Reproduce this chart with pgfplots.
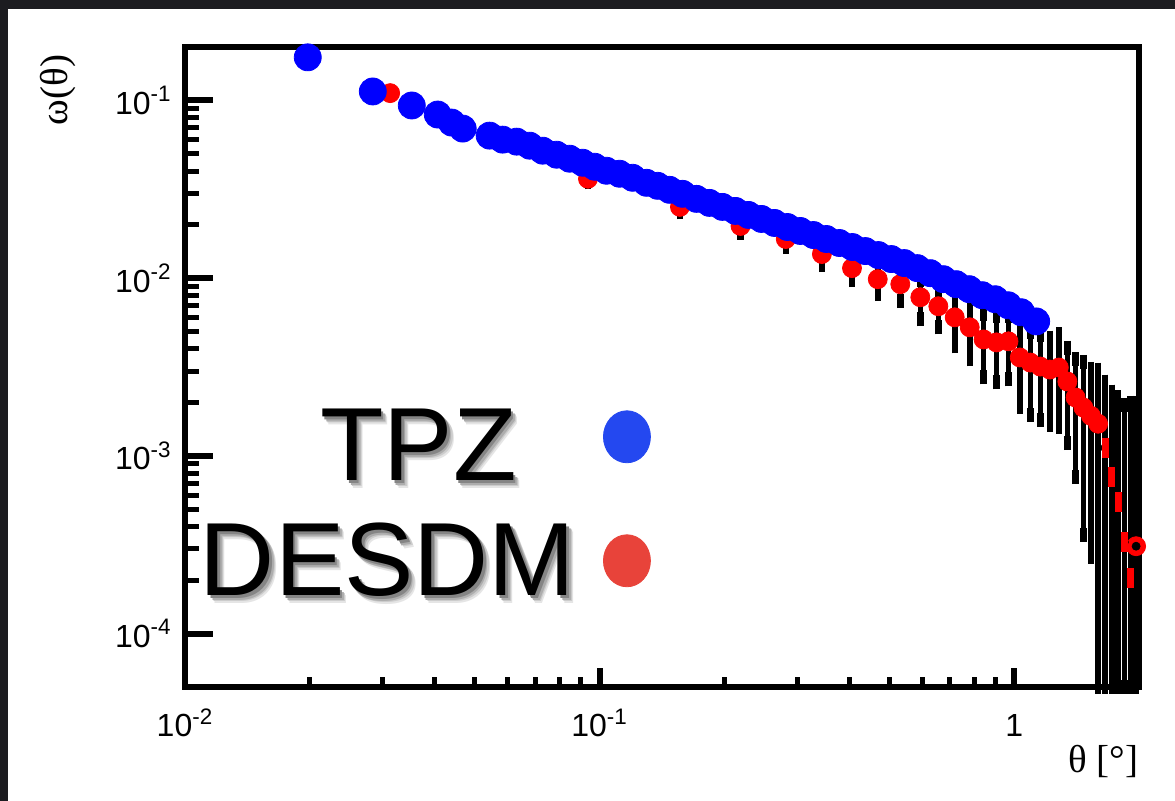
\documentclass[border=0pt]{standalone}
\usepackage{fontspec}
\setmainfont{Liberation Sans}
\newfontfamily\timesfont{Liberation Serif}
\usepackage{pgfplots}
\pgfplotsset{compat=1.18}
\usepackage{pgfplotstable}
\definecolor{bgdark}{RGB}{28,28,32}
\definecolor{legblue}{RGB}{36,72,240}
\definecolor{legred}{RGB}{232,67,58}
\newcommand{\shtext}[1]{\rlap{\kern3.4pt\raisebox{-4pt}{\color{black!10}#1}}\rlap{\kern2.8pt\raisebox{-3.3pt}{\color{black!20}#1}}\rlap{\kern2.1pt\raisebox{-2.5pt}{\color{black!32}#1}}\rlap{\kern1.3pt\raisebox{-1.6pt}{\color{black!48}#1}}#1}

\pgfplotstableread{
t w ep em
0.03125 0.110 0.0017 0.0017
0.09375 0.03625 0.0017 0.0017
0.15625 0.02518 0.0017 0.0017
0.21875 0.01967 0.0017 0.0017
0.28125 0.01661 0.00164 0.00164
0.34375 0.01367 0.00183 0.00183
0.40625 0.01139 0.00165 0.00165
0.46875 0.00987 0.00175 0.00175
0.53125 0.00925 0.00183 0.00183
0.59375 0.00781 0.00194 0.00194
0.65625 0.00695 0.00166 0.00166
0.71875 0.00602 0.00189 0.00189
0.78125 0.00529 0.00180 0.00180
0.84375 0.00452 0.00176 0.00176
0.90625 0.00435 0.00176 0.00176
0.96875 0.00441 0.00172 0.00172
1.03125 0.00358 0.00169 0.00169
1.09375 0.00335 0.00165 0.00165
1.15625 0.00318 0.00158 0.00158
1.21875 0.00306 0.00156 0.00156
1.28125 0.00314 0.00168 0.00168
1.34375 0.00262 0.00144 0.00144
1.40625 0.00213 0.00137 0.00137
1.46875 0.00187 0.00151 0.00151
1.53125 0.00168 0.00141 0.00141
1.59375 0.001516 0.00154 0.001466
1.65625 0.00111 0.00151 0.00106
1.71875 0.000761 0.00154 0.000711
1.78125 0.00055 0.00158 0.0005
1.84375 0.000327 0.00161 0.000277
1.90625 0.000204 0.00178 0.000154
1.96875 0.00031 0.00167 0.00026
}\reddata

\pgfplotstableread{
t w
0.01978 0.1749
0.02838 0.1124
0.03524 0.09371
0.04071 0.08335
0.04399 0.07509
0.04676 0.06947
0.05430 0.06342
0.05837 0.06021
0.06310 0.05866
0.06782 0.05568
0.07290 0.05218
0.07877 0.04953
0.08468 0.04702
0.09100 0.04464
0.09727 0.04238
0.1039 0.04023
0.1117 0.03870
0.1201 0.03673
0.1298 0.03441
0.1380 0.03310
0.1475 0.03142
0.1585 0.02983
0.1713 0.02794
0.1841 0.02652
0.1978 0.02518
0.2127 0.02390
0.2286 0.02269
0.2457 0.02154
0.2641 0.02045
0.2838 0.01941
0.3050 0.01843
0.3279 0.01749
0.3524 0.01661
0.3788 0.01577
0.4071 0.01497
0.4375 0.01421
0.4703 0.01349
0.5054 0.01281
0.5432 0.01216
0.5839 0.01139
0.6275 0.01067
0.6745 0.00987
0.7249 0.00925
0.7791 0.00867
0.8374 0.00802
0.9000 0.00761
0.9672 0.00704
1.0396 0.00643
1.1298 0.00571
}\bluedata

\begin{document}
\begin{tikzpicture}
\fill[bgdark] (0,0) rectangle (587.5pt,400.5pt);
\fill[white] (4pt,0) rectangle (587.5pt,396pt);
\begin{axis}[
  at={(92.5pt,57pt)}, anchor=south west,
  scale only axis, width=477pt, height=320pt,
  xmode=log, ymode=log,
  xmin=0.01, xmax=2, ymin=5e-5, ymax=0.2,
  clip=false,
  axis line style={line width=3.25pt, line join=miter},
  tick align=inside, tick pos=left,
  xtick={0.01,0.1,1},
  xticklabels={10\textsuperscript{-2},10\textsuperscript{-1},1},
  ytick={1e-4,1e-3,1e-2,1e-1},
  yticklabels={10\textsuperscript{-4},10\textsuperscript{-3},10\textsuperscript{-2},10\textsuperscript{-1}},
  major tick style={line width=3pt, black},
  minor tick style={line width=2.5pt, black},
  xtick style={/pgfplots/major tick length=9.5pt,/pgfplots/minor tick length=5pt},
  ytick style={/pgfplots/major tick length=14pt,/pgfplots/minor tick length=7pt},
  xticklabel style={anchor=base, inner sep=0pt, yshift=-25pt, font=\fontsize{16}{18}\selectfont},
  yticklabel style={anchor=east, inner sep=0pt, xshift=-6.5pt, font=\fontsize{16}{18}\selectfont},
  ylabel={\timesfont ω(θ)},
  ylabel style={at={(axis description cs:-0.133,0.933)}, anchor=center, font=\fontsize{19.5}{22}\selectfont},
  xlabel={\timesfont θ [°]},
  xlabel style={at={(axis description cs:1,-0.117)}, anchor=east, inner sep=0pt, font=\fontsize{19.5}{22}\selectfont},
  legend style={at={(axis description cs:0.0157,0.448)}, anchor=north west, draw=none, fill=none,
    inner sep=0pt, outer sep=0pt, column sep=0pt, row sep=0pt,
    font=\fontsize{52}{60}\selectfont,
    nodes={inner sep=0pt, text height=40pt, text depth=17.5pt}},
  legend plot pos=right,
  legend cell align=right,
]
% error bars (behind markers)
\addplot[forget plot, only marks, mark=none, black,
  error bars/.cd, y dir=both, y explicit, error mark=-,
  error bar style={line width=2.8pt, black},
  error mark options={black, line width=3.2pt, mark size=3.5pt}]
  table[x=t, y=w, y error plus=ep, y error minus=em]{\reddata};
% DESDM markers
\addplot[forget plot, only marks, mark=*, mark size=4.75pt, red, mark options={draw=red, fill=red},
  skip coords between index={26}{31}]
  table[x=t, y=w]{\reddata};
% dense error bars over markers
\addplot[forget plot, only marks, mark=none, black, skip coords between index={0}{26},
  error bars/.cd, y dir=both, y explicit, error mark=-,
  error bar style={line width=2.8pt, black},
  error mark options={black, line width=3.2pt, mark size=3.5pt}]
  table[x=t, y=w, y error plus=ep, y error minus=em]{\reddata};
% visible red pieces between dense bars
\addplot[forget plot, only marks, mark=|, mark size=5pt, red, mark options={line width=3.5pt, draw=red},
  skip coords between index={0}{26}, skip coords between index={31}{32}]
  table[x=t, y=w]{\reddata};
% TPZ markers
\addplot[forget plot, only marks, mark=*, mark size=6.75pt, blue, mark options={draw=blue, fill=blue}]
  table[x=t, y=w]{\bluedata};
% legend
\addlegendimage{legend image code/.code={\path (0pt,0pt) (34pt,0pt); \fill[legblue] (25.5pt,10.5pt) ellipse [x radius=11.75pt, y radius=13pt];}}
\addlegendentry{\shtext{TPZ}\kern29.5pt}
\addlegendimage{legend image code/.code={\path (0pt,0pt) (34pt,0pt); \fill[legred] (25.5pt,6pt) ellipse [x radius=11.75pt, y radius=13pt];}}
\addlegendentry{\shtext{DESDM}}
\end{axis}
\pgfresetboundingbox
\useasboundingbox (0,0) rectangle (587.5pt,400.5pt);
\end{tikzpicture}
\end{document}
